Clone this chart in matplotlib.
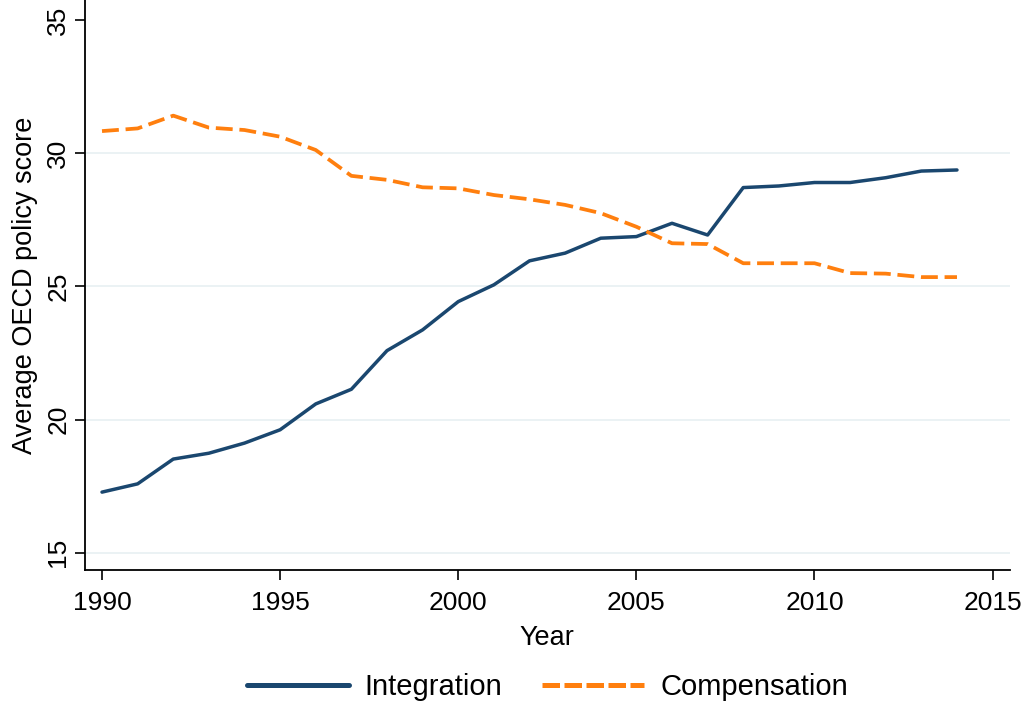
import matplotlib.pyplot as plt

years = list(range(1990, 2015))
integration = [17.28, 17.59, 18.52, 18.74, 19.12, 19.62, 20.59, 21.14, 22.59, 23.37,
               24.43, 25.06, 25.96, 26.25, 26.81, 26.87, 27.37, 26.93, 28.71, 28.77,
               28.90, 28.90, 29.08, 29.33, 29.37]
compensation = [30.83, 30.93, 31.41, 30.96, 30.87, 30.62, 30.12, 29.15, 29.00, 28.72,
                28.68, 28.43, 28.27, 28.06, 27.75, 27.24, 26.62, 26.59, 25.87, 25.87,
                25.87, 25.50, 25.48, 25.35, 25.35]
x_ticks = [1990, 1995, 2000, 2005, 2010, 2015]
y_ticks = [15, 20, 25, 30, 35]

plt.rcParams['font.family'] = ['Liberation Sans', 'DejaVu Sans']

fig = plt.figure(figsize=(10.23, 7.01), dpi=100)
ax = fig.add_axes([0.083, 0.187, 0.904, 0.813])

navy = '#1a476f'
orange = '#ff7f0e'

for y in y_ticks[:-1]:
    ax.axhline(y, color='#e8f0f2', lw=1.2, zorder=0)

ax.plot(years, integration, color=navy, lw=2.5, label='Integration',
        solid_capstyle='round')
ax.plot(years, compensation, color=orange, lw=2.7, dashes=(4.5, 1.8),
        label='Compensation')

ax.set_xlim(1989.52, 2015.48)
ax.set_ylim(14.36, 35.75)
ax.set_xticks(x_ticks)
ax.set_yticks(y_ticks)
ax.tick_params(axis='both', length=7.5, width=1.2, labelsize=19)
ax.tick_params(axis='x', pad=8)
ax.tick_params(axis='y', pad=3)
plt.setp(ax.get_yticklabels(), rotation=90, va='center')

for side in ('top', 'right'):
    ax.spines[side].set_visible(False)
for side in ('left', 'bottom'):
    ax.spines[side].set_linewidth(1.3)

ax.set_xlabel('Year', fontsize=19.5, labelpad=7)
ax.set_ylabel('Average OECD policy score', fontsize=19.5, labelpad=6)

# legend centred under the plot area rather than the whole figure
leg = fig.legend(loc='lower center', ncol=2, bbox_to_anchor=(0.535, -0.038),
                 frameon=False, fontsize=21, handlelength=3.5,
                 handletextpad=0.55, columnspacing=1.35)
for line in leg.get_lines():
    line.set_linewidth(3.6)
leg.get_lines()[1].set_dashes((3.5, 0.9))

fig.savefig('out.png', dpi=100)
